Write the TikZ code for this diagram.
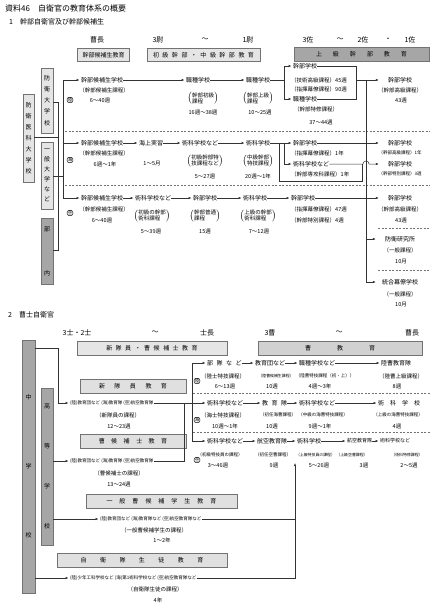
\documentclass[tikz,border=0pt]{standalone}
\usepackage{fontspec}
\setmainfont{Noto Sans CJK JP}
\usetikzlibrary{arrows.meta}
\newcommand{\kakko}[2]{$\left(\renewcommand{\arraystretch}{0.78}\begin{tabular}{@{}l@{}}#1\\#2\end{tabular}\right)$}
\newcommand{\ks}{\hspace{3.5pt}}
\tikzset{
  txt/.style={inner sep=0pt, font=\fontsize{6}{7}\selectfont},
  capt/.style={inner sep=0pt, font=\fontsize{5.5}{6.5}\selectfont},
  tiny/.style={inner sep=0pt, font=\fontsize{4.5}{5.5}\selectfont},
  tinier/.style={inner sep=0pt, font=\fontsize{3.9}{5}\selectfont},
  rank/.style={inner sep=0pt, font=\fontsize{7}{8}\selectfont},
  lbox/.style={draw=black!55, fill=black!10, inner sep=0pt, font=\fontsize{6}{7}\selectfont},
  dbox/.style={draw=black!55, fill=black!35, inner sep=0pt, font=\fontsize{6}{7}\selectfont},
  side/.style={draw=black!55, fill=black!10, inner sep=0pt, align=center},
  branch/.style={draw, rounded corners=2pt, inner sep=0.6pt, font=\fontsize{4.5}{5}\selectfont},
  ln/.style={black!80, line width=0.5pt},
  ar/.style={ln, -{Latex[length=3pt,width=2.4pt]}, shorten >=1.5pt},
  dline/.style={black!55, line width=0.5pt, dash pattern=on 2pt off 1.5pt},
}
\begin{document}
\begin{tikzpicture}[x=1pt, y=-1pt]
  \useasboundingbox (0,0) rectangle (434,606);
  \fill[white] (0,0) rectangle (434,606);

  % titles
  \node[anchor=west, inner sep=0pt, font=\fontsize{8}{9}\selectfont] (title) at (5,8) {資料46　自衛官の教育体系の概要};
  \node[anchor=west, inner sep=0pt, font=\fontsize{7}{8}\selectfont] (sec1) at (9,22) {1　幹部自衛官及び幹部候補生};

  % ranks, part 1
  \node[rank] (socho1) at (97,40) {曹長};
  \node[rank] (sani) at (158,40) {3尉};
  \node[rank] (nami1) at (205,40) {～};
  \node[rank] (ichii) at (248,40) {1尉};
  \node[rank] (sansa) at (308,40) {3佐};
  \node[rank] (nami2) at (340,40) {～};
  \node[rank] (nisa) at (363,40) {2佐};
  \node[rank] (dot) at (388,40) {・};
  \node[rank] (issa) at (410,40) {1佐};

  \node[lbox, minimum width=52, minimum height=13] (hkouho) at (103.5,55) {幹部候補生教育};
  \node[lbox, minimum width=113, minimum height=13] (hshokyu) at (203.5,55) {初\ks 級\ks 幹\ks 部\ks ・\ks 中\ks 級\ks 幹\ks 部\ks 教\ks 育};
  \node[dbox, minimum width=135, minimum height=14] (hjokyu) at (361.5,54) {上\hspace{11pt}級\hspace{11pt}幹\hspace{11pt}部\hspace{11pt}教\hspace{11pt}育};

  % entrance
  \node[side, minimum width=11, minimum height=88, font=\fontsize{6}{11}\selectfont] (ika) at (28.5,138) {防\\衛\\医\\科\\大\\学\\校};
  \node[side, minimum width=12, minimum height=65, font=\fontsize{6}{11.2}\selectfont] (boei) at (47,100.5) {防\\衛\\大\\学\\校};
  \node[side, minimum width=12, minimum height=67, font=\fontsize{6}{10}\selectfont] (ippan) at (47,175.5) {一\\般\\大\\学\\な\\ど};
  \node[side, fill=black!35, minimum width=12, minimum height=66, font=\fontsize{6}{44}\selectfont] (bunai) at (47,251) {部\\内};

  \draw[ln] (boei.east |- 0,102) -| (58,250) -- (bunai.east |- 0,250);
  \draw[ln] (ika.east |- 0,137) -- (58,137);
  \draw[ln] (ippan.east |- 0,176) -- (63,176);
  \draw[ln] (63,80) -- (63,198);

  \node[branch] (riku1) at (70,100) {陸};
  \node[branch] (kai1) at (70,160) {海};
  \node[branch] (ku1) at (70,213) {空};

  % GSDF row
  \node[txt, anchor=west] (r1a) at (81,80) {幹部候補生学校};
  \node[capt] (r1ac) at (104,90) {（幹部候補生課程）};
  \node[capt] (r1aw) at (100,100) {6～40週};
  \node[txt, anchor=west] (r1b) at (186,80) {職種学校};
  \node[capt] (r1bc) at (203,98.5) {\kakko{幹部初級}{課程}};
  \node[capt] (r1bw) at (203,112.5) {16週～38週};
  \node[txt, anchor=west] (r1c) at (246,80) {職種学校};
  \node[capt] (r1cc) at (258,98.5) {\kakko{幹部上級}{課程}};
  \node[capt] (r1cw) at (260,112.5) {10～25週};
  \node[txt, anchor=west] (r1d) at (293,66) {幹部学校};
  \node[capt, anchor=west] (r1dc1) at (291,80) {（技術高級課程）45週};
  \node[capt, anchor=west] (r1dc2) at (291,89) {（指揮幕僚課程）90週};
  \node[txt, anchor=west] (r1e) at (293,99) {職種学校};
  \node[capt] (r1ec) at (316,109) {（幹部特修課程）};
  \node[capt] (r1ew) at (321,122) {37～44週};
  \node[txt] (r1f) at (400,80) {幹部学校};
  \node[capt] (r1fc) at (400,90) {（幹部高級課程）};
  \node[capt] (r1fw) at (401,100) {43週};

  \draw[ar] (63,80) -- (r1a.west);
  \draw[ar] (r1a.east) -- (r1b.west);
  \draw[ar] (r1b.east) -- (r1c.west);
  \draw[ln] (r1c.east) -- (284,80);
  \draw[ln] (284,66) -- (284,99);
  \draw[ar] (284,66) -- (r1d.west);
  \draw[ar] (284,99) -- (r1e.west);
  \draw[ln] (r1d.east) -- (356,66) -- (356,99) -- (r1e.east);
  \draw[ar, shorten >=9pt] (356,80) -- (r1f.west);

  \draw[dline] (65,131) -- (430,131);

  % MSDF row
  \node[txt, anchor=west] (r2a) at (81,143) {幹部候補生学校};
  \node[capt] (r2ac) at (104,153) {（幹部候補生課程）};
  \node[capt] (r2aw) at (105,164) {6週～1年};
  \node[txt, anchor=west] (r2b) at (139,143) {海上実習};
  \node[capt] (r2bw) at (152,164) {1～5月};
  \node[txt, anchor=west] (r2c) at (182,143) {術科学校など};
  \node[capt] (r2cc) at (205,161) {\kakko{初級幹部特}{技課程など}};
  \node[capt] (r2cw) at (205,176) {5～27週};
  \node[txt, anchor=west] (r2d) at (246,143) {術科学校};
  \node[capt] (r2dc) at (258,161) {\kakko{中級幹部}{特技課程}};
  \node[capt] (r2dw) at (258,176) {20週～1年};
  \node[txt, anchor=west] (r2e) at (293,143) {幹部学校};
  \node[capt, anchor=west] (r2ec) at (291,153) {（指揮幕僚課程）1年};
  \node[txt, anchor=west] (r2f) at (293,164) {術科学校など};
  \node[capt, anchor=west] (r2fc) at (291,174) {（幹部専攻科課程）1年};
  \node[txt] (r2g) at (400,143) {幹部学校};
  \node[tiny] (r2gc) at (400,153) {（幹部高級課程）1年};
  \node[txt] (r2h) at (400,164) {幹部学校};
  \node[tiny] (r2hc) at (400,174) {（幹部特別課程）3週};

  \draw[ar] (63,143) -- (r2a.west);
  \draw[ar] (r2a.east) -- (r2b.west);
  \draw[ar] (r2b.east) -- (r2c.west);
  \draw[ar] (r2c.east) -- (r2d.west);
  \draw[ln] (r2d.east) -- (279,143);
  \draw[ar] (279,143) -- (r2e.west);
  \draw[ar] (284,143) |- (r2f.west);
  \draw[ln] (279,143) -- (279,181) -- (362,181) -- (362,164);
  \draw[ar, shorten >=9pt] (r2e.east) -- (r2g.west);
  \draw[ar, shorten >=9pt] (r2f.east) -- (363,164) arc[start angle=180, end angle=0, radius=3pt] -- (r2h.west);

  \draw[dline] (65,185) -- (430,185);

  % ASDF row
  \node[txt, anchor=west] (r3a) at (81,198) {幹部候補生学校};
  \node[capt] (r3ac) at (104,209) {（幹部候補生課程）};
  \node[capt] (r3aw) at (102,220) {6～40週};
  \node[txt, anchor=west] (r3b) at (135,198) {術科学校など};
  \node[capt] (r3bc) at (152,216) {\kakko{初級の幹部}{術科課程}};
  \node[capt] (r3bw) at (151,231) {5～39週};
  \node[txt, anchor=west] (r3c) at (193,198) {幹部学校};
  \node[capt] (r3cc) at (205,216) {\kakko{幹部普通}{課程}};
  \node[capt] (r3cw) at (205,231) {15週};
  \node[txt, anchor=west] (r3d) at (243,198) {術科学校};
  \node[capt] (r3dc) at (258,216) {\kakko{上級の幹部}{術科課程}};
  \node[capt] (r3dw) at (259,231) {7～12週};
  \node[txt, anchor=west] (r3e) at (291,198) {幹部学校};
  \node[capt, anchor=west] (r3ec1) at (291,209) {（指揮幕僚課程）47週};
  \node[capt, anchor=west] (r3ec2) at (291,220) {（幹部特別課程）4週};
  \node[txt] (r3f) at (400,198) {幹部学校};
  \node[capt] (r3fc) at (400,209) {（幹部高級課程）};
  \node[capt] (r3fw) at (401,220) {43週};

  \draw[ar] (63,198) -- (r3a.west);
  \draw[ar] (r3a.east) -- (r3b.west);
  \draw[ar] (r3b.east) -- (r3c.west);
  \draw[ar] (r3c.east) -- (r3d.west);
  \draw[ar] (r3d.east) -- (r3e.west);
  \draw[ar, shorten >=9pt] (r3e.east) -- (r3f.west);

  % common courses
  \node[txt] (kenkyu) at (400,239) {防衛研究所};
  \node[capt] (kenkyuc) at (400,250) {（一般課程）};
  \node[capt] (kenkyuw) at (401,262) {10月};
  \node[txt] (togo) at (400,282) {統合幕僚学校};
  \node[capt] (togoc) at (400,294) {（一般課程）};
  \node[capt] (togow) at (401,305) {10月};
  \draw[ln] (366,80) -- (366,282);
  \draw[ar, shorten >=9pt] (366,239) -- (kenkyu.west);
  \draw[ar, shorten >=6pt] (366,282) -- (togo.west);
  \draw[dline] (378,228) -- (430,228);
  \draw[dline] (378,270) -- (430,270);

  % part 2
  \node[anchor=west, inner sep=0pt, font=\fontsize{7}{8}\selectfont] (sec2) at (8,315) {2　曹士自衛官};
  \node[rank] (sanshi) at (77,333) {3士・2士};
  \node[rank] (nami3) at (155,333) {～};
  \node[rank] (shicho) at (207,333) {士長};
  \node[rank] (sanso) at (270,333) {3曹};
  \node[rank] (nami4) at (339,333) {～};
  \node[rank] (socho2) at (412,333) {曹長};

  \node[lbox, minimum width=150, minimum height=14] (hshin) at (152,348) {新\ks 隊\ks 員\ks ・\ks 曹\ks 候\ks 補\ks 士\ks 教\ks 育};
  \node[lbox, fill=black!18, minimum width=164, minimum height=14] (hso) at (340,348) {曹\hspace{26pt}教\hspace{26pt}育};

  \node[side, fill=black!35, minimum width=13, minimum height=253, font=\fontsize{6}{69}\selectfont] (chu) at (28.5,466.5) {中\\学\\校};
  \node[side, fill=black!35, minimum width=12, minimum height=157, font=\fontsize{6}{40}\selectfont] (koko) at (47,466.5) {高\\等\\学\\校};

  \node[lbox, fill=black!12, minimum width=106, minimum height=14] (hshintai) at (133,386) {新\hspace{9.5pt}隊\hspace{9.5pt}員\hspace{9.5pt}教\hspace{9.5pt}育};
  \node[lbox, fill=black!12, minimum width=106, minimum height=14] (hsokoho) at (133,441) {曹\hspace{6.5pt}候\hspace{6.5pt}補\hspace{6.5pt}士\hspace{6.5pt}教\hspace{6.5pt}育};
  \node[lbox, fill=black!12, minimum width=151, minimum height=14] (hippan) at (161.5,501) {一\hspace{7pt}般\hspace{7pt}曹\hspace{7pt}候\hspace{7pt}補\hspace{7pt}学\hspace{7pt}生\hspace{7pt}教\hspace{7pt}育};
  \node[lbox, fill=black!12, minimum width=170, minimum height=14] (hseito) at (142,560) {自\hspace{13.5pt}衛\hspace{13.5pt}隊\hspace{13.5pt}生\hspace{13.5pt}徒\hspace{13.5pt}教\hspace{13.5pt}育};

  % new recruits
  \node[tiny, anchor=west] (s1a) at (70,403) {(陸)教育団など (海)教育隊 (空)航空教育隊};
  \node[capt] (s1c) at (118,415) {（新隊員の課程）};
  \node[capt] (s1w) at (119,426) {12～23週};
  \node[tiny, anchor=west] (s2a) at (70,461) {(陸)教育団など (海)教育隊 (空)航空教育隊};
  \node[capt] (s2c) at (119,473) {（曹候補士の課程）};
  \node[capt] (s2w) at (119,484) {13～24週};
  \node[tiny, anchor=west] (s3a) at (100,519) {(陸)教育団など (海)教育隊など (空)航空教育隊など};
  \node[capt] (s3c) at (154,530) {（一般曹候補学生の課程）};
  \node[capt] (s3w) at (162,540) {1～2年};
  \node[tiny, anchor=west] (s4a) at (70,578) {(陸)少年工科学校など (海)第1術科学校など (空)航空教育隊など};
  \node[capt] (s4c) at (155,589) {（自衛隊生徒の課程）};
  \node[capt] (s4w) at (158,600) {4年};

  \draw[ln] (chu.east |- 0,348) -- (58,348) -- (58,403);
  \draw[ar] (58,403) -- (s1a.west);
  \draw[ar] (koko.east |- 0,461) -- (s2a.west);
  \draw[ar] (koko.east |- 0,519) -- (s3a.west);
  \draw[ar] (chu.east |- 0,578) -- (s4a.west);
  \draw[ln] (s1a.east) -- (192,403);
  \draw[ln] (s2a.east) -- (184,461) -- (184,403);
  \draw[ln] (s3a.east) -- (295,519);
  \draw[ar, shorten >=0pt] (s4a.east) -| (295,463);
  \draw[ln] (192,363) -- (192,441);

  \node[branch] (riku2) at (197,381) {陸};
  \node[branch] (kai2) at (197,420) {海};
  \node[branch] (ku2) at (197,460) {空};

  % GSDF enlisted
  \node[txt, anchor=west] (t1a) at (207,363) {部\ks 隊\ks な\ks ど};
  \node[capt] (t1ac) at (223,376) {（陸士特技課程）};
  \node[capt] (t1aw) at (225,386) {6～13週};
  \node[txt, anchor=west] (t1b) at (255,363) {教育団など};
  \node[tinier] (t1bc) at (276,376) {（陸曹候補生課程）};
  \node[capt] (t1bw) at (272,386) {10週};
  \node[txt, anchor=west] (t1c) at (299,363) {職種学校など};
  \node[tiny] (t1cc) at (325,376) {（陸曹特技課程（初・上））};
  \node[capt] (t1cw) at (320,386) {4週～3年};
  \node[txt, anchor=west] (t1d) at (381,363) {陸曹教育隊};
  \node[capt] (t1dc) at (401,376) {（陸曹上級課程）};
  \node[capt] (t1dw) at (397,386) {8週};
  \draw[ar] (192,363) -- (t1a.west);
  \draw[ar] (t1a.east) -- (t1b.west);
  \draw[ar] (t1b.east) -- (t1c.west);
  \draw[ar] (t1c.east) -- (t1d.west);
  \draw[dline] (193,393) -- (430,393);

  % MSDF enlisted
  \node[txt, anchor=west] (t2a) at (207,403) {術科学校など};
  \node[capt] (t2ac) at (223,415) {（海士特技課程）};
  \node[capt] (t2aw) at (225,426) {10週～1年};
  \node[txt, anchor=west] (t2b) at (262,403) {教\ks 育\ks 隊};
  \node[tiny] (t2bc) at (278,415) {（初任海曹課程）};
  \node[capt] (t2bw) at (272,426) {10週};
  \node[txt, anchor=west] (t2c) at (299,403) {術科学校など};
  \node[tiny] (t2cc) at (323,415) {（中級の海曹特技課程）};
  \node[capt] (t2cw) at (320,426) {9週～1年};
  \node[txt, anchor=west] (t2d) at (378,403) {術\hspace{6pt}科\hspace{6pt}学\hspace{6pt}校};
  \node[tiny] (t2dc) at (398,415) {（上級の海曹特技課程）};
  \node[capt] (t2dw) at (397,426) {4週};
  \draw[ar] (192,403) -- (t2a.west);
  \draw[ar] (t2a.east) -- (t2b.west);
  \draw[ar] (t2b.east) -- (t2c.west);
  \draw[ar] (t2c.east) -- (t2d.west);
  \draw[dline] (193,432) -- (430,432);

  % ASDF enlisted
  \node[txt, anchor=west] (t3a) at (207,441) {術科学校など};
  \node[tiny] (t3ac) at (220,455) {（初級特技員の課程）};
  \node[capt] (t3aw) at (218,465) {3～46週};
  \node[txt, anchor=west] (t3b) at (257,441) {航空教育隊};
  \node[tiny] (t3bc) at (273,455) {（初任空曹課程）};
  \node[capt] (t3bw) at (274,465) {9週};
  \node[txt, anchor=west] (t3c) at (297,441) {術科学校};
  \node[tinier] (t3cc) at (315.5,455) {（上級特技員の課程）};
  \node[capt] (t3cw) at (319,465) {5～26週};
  \node[tiny, font=\fontsize{5}{6}\selectfont, anchor=west] (t3d) at (347,441) {航空教育隊};
  \node[tinier] (t3dc) at (352,455) {（上級空曹課程）};
  \node[capt] (t3dw) at (364,465) {3週};
  \node[tiny, font=\fontsize{5}{6}\selectfont, anchor=west] (t3e) at (380,441) {術科学校など};
  \node[tinier] (t3ec) at (407,455) {（術科特修課程）};
  \node[capt] (t3ew) at (409,465) {2～5週};
  \draw[ar] (192,441) -- (t3a.west);
  \draw[ar] (t3a.east) -- (t3b.west);
  \draw[ar] (t3b.east) -- (t3c.west);
  \draw[ar] (t3c.east) -- (t3d.west);
  \draw[ar] (t3d.east) -- (t3e.west);
\end{tikzpicture}
\end{document}
